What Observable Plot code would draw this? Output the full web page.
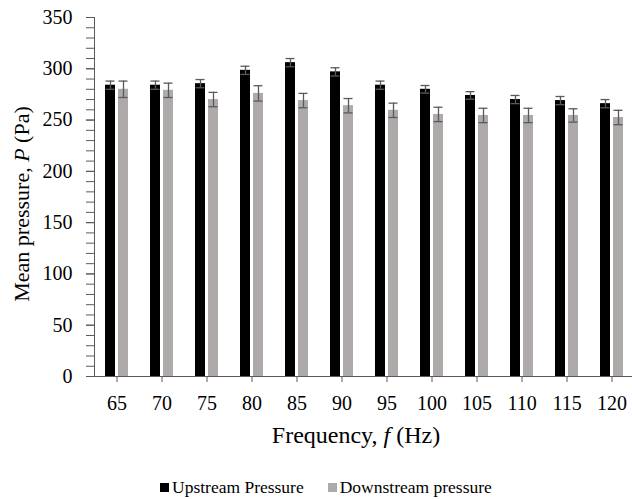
<!DOCTYPE html>
<html><head><meta charset="utf-8">
<script src="https://cdn.jsdelivr.net/npm/d3@7"></script>
<script src="https://cdn.jsdelivr.net/npm/@observablehq/plot@0.6"></script>
<style>
body{margin:0;background:#fff;font-family:"Liberation Serif","Times New Roman",serif;}
#chart{width:632px;height:499px;position:relative;overflow:hidden}
#chart svg, #chart svg text{font-family:"Liberation Serif","Times New Roman",serif !important;}
#legend{position:absolute;left:160px;top:477px;display:flex;align-items:center;font-size:17.5px;color:#000;white-space:nowrap}
#legend .sw{display:inline-block;width:9px;height:9px;margin-right:3px}
#legend .item{display:flex;align-items:center;margin-right:24px}
</style></head><body><div id="chart"></div>
<script>
const frequencies = ["65","70","75","80","85","90","95","100","105","110","115","120"];
const upstream = [284,284,285.5,298.5,306,297,284,280,274,270,269,266];
const upstreamErr = [4,4,4,4,4,4,4,3.7,3.7,4,4,4];
const downstream = [280,279,270,276,269,264,259.5,255.5,254.5,254.5,254.5,252.5];
const downstreamErr = [8,7,7,7.5,7,7,7,7,7,7,6.5,7];
const seriesNames = ["Upstream Pressure","Downstream pressure"];
const seriesColors = ["#000000","#aeaaaa"];
const yMajorTicks = [0,50,100,150,200,250,300,350];
const yMinorTicks = d3.range(0,351,10);

const W = 632, H = 458, mL = 94, mR = -2, mT = 17, mB = H - 376;
const bw = (W - mL - mR) / frequencies.length;

const rows = [];
frequencies.forEach((f,i)=>{
  rows.push({freq:f, series:seriesNames[0], value:upstream[i], err:upstreamErr[i]});
  rows.push({freq:f, series:seriesNames[1], value:downstream[i], err:downstreamErr[i]});
});
const up = rows.filter(d=>d.series===seriesNames[0]);
const dn = rows.filter(d=>d.series===seriesNames[1]);
const half = bw/2;
const errColor = "#5a5a5a";
const serif = '"Liberation Serif","Times New Roman",serif';

const plot = Plot.plot({
  width: W, height: H,
  marginLeft: mL, marginRight: mR, marginTop: mT, marginBottom: mB,
  style: {fontFamily: serif, fontSize: "20px", color: "#000", background: "#fff", overflow: "hidden"},
  x: {type: "band", domain: frequencies, padding: 0, round: false, label: null},
  y: {domain: [0, 350], label: null},
  marks: [
    Plot.barY(up, {x: "freq", y: "value", fill: seriesColors[0], insetLeft: half - 11.5, insetRight: half + 1.5}),
    Plot.barY(dn, {x: "freq", y: "value", fill: seriesColors[1], insetLeft: half + 1.5, insetRight: half - 11.5}),
    Plot.ruleX(up, {x: "freq", y1: d => d.value - d.err, y2: d => d.value + d.err, dx: -6.5, stroke: errColor, strokeWidth: 1.3}),
    Plot.ruleX(dn, {x: "freq", y1: d => d.value - d.err, y2: d => d.value + d.err, dx: 6.5, stroke: errColor, strokeWidth: 1.3}),
    Plot.tickY(up, {x: "freq", y: d => d.value - d.err, insetLeft: half - 11, insetRight: half + 2, stroke: errColor, strokeWidth: 1.3}),
    Plot.tickY(up, {x: "freq", y: d => d.value + d.err, insetLeft: half - 11, insetRight: half + 2, stroke: errColor, strokeWidth: 1.3}),
    Plot.tickY(dn, {x: "freq", y: d => d.value - d.err, insetLeft: half + 2, insetRight: half - 11, stroke: errColor, strokeWidth: 1.3}),
    Plot.tickY(dn, {x: "freq", y: d => d.value + d.err, insetLeft: half + 2, insetRight: half - 11, stroke: errColor, strokeWidth: 1.3}),
    Plot.axisY(yMinorTicks, {tickSize: 8, text: null, stroke: "#595959", label: null}),
    Plot.axisY(yMajorTicks, {tickSize: 8, tickPadding: 14, fontSize: 20, fontFamily: serif, stroke: "#595959", fill: "#000", label: null}),
    Plot.axisX({tickSize: 6, tickPadding: 13, fontSize: 20, fontFamily: serif, stroke: "#595959", fill: "#000", label: null}),
    Plot.frame({anchor: "left", stroke: "#595959"}),
    Plot.ruleY([0], {stroke: "#595959"})
  ]
});

const chart = document.getElementById("chart");
chart.appendChild(plot);

// axis titles with italic symbols
const svg = d3.select(plot);
const yl = svg.append("text")
  .attr("transform", `translate(24,204) rotate(-90)`)
  .attr("text-anchor", "middle").attr("dominant-baseline", "middle")
  .attr("font-size", 22).attr("fill", "#000");
yl.append("tspan").text("Mean pressure, ");
yl.append("tspan").attr("font-style", "italic").text("P");
yl.append("tspan").text(" (Pa)");

const xl = svg.append("text")
  .attr("x", 356).attr("y", 437)
  .attr("text-anchor", "middle").attr("dominant-baseline", "middle")
  .attr("font-size", 24).attr("fill", "#000");
xl.append("tspan").text("Frequency, ");
xl.append("tspan").attr("font-style", "italic").text("f");
xl.append("tspan").text(" (Hz)");

// legend
const legend = document.createElement("div");
legend.id = "legend";
seriesNames.forEach((name, i) => {
  const item = document.createElement("span");
  item.className = "item";
  const sw = document.createElement("span");
  sw.className = "sw";
  sw.style.background = seriesColors[i];
  item.appendChild(sw);
  item.appendChild(document.createTextNode(name));
  legend.appendChild(item);
});
chart.appendChild(legend);
</script>
</body></html>
